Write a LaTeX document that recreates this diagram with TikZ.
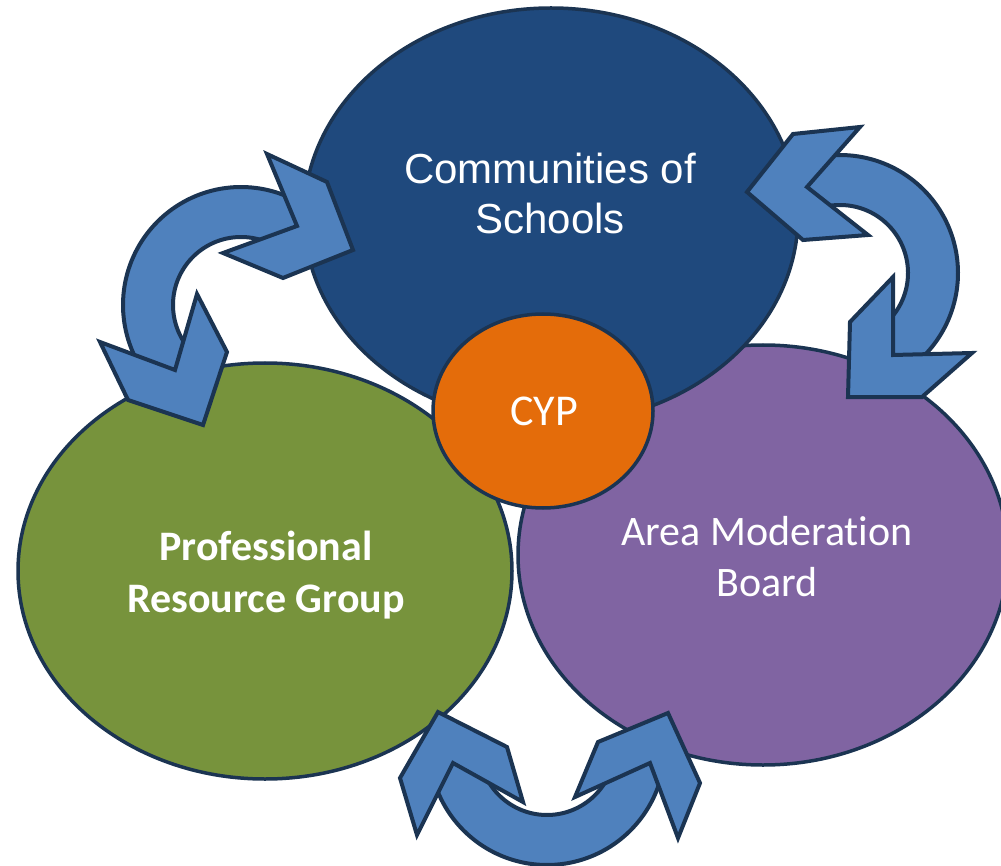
\documentclass[tikz,border=0pt]{standalone}
\usepackage{fontspec}
\usetikzlibrary{shapes.geometric}
\newfontfamily\arialf{Liberation Sans}
\newfontfamily\calf[Ligatures=NoCommon]{Carlito}
\definecolor{blueE}{HTML}{1F497D}
\definecolor{greenE}{HTML}{77933C}
\definecolor{purpleE}{HTML}{8064A2}
\definecolor{orangeE}{HTML}{E46C0A}
\definecolor{arrowC}{HTML}{4F81BD}
\definecolor{lineC}{HTML}{1B3452}
\tikzset{
  ell/.style={ellipse, draw=lineC, line width=3.5pt, inner sep=0pt, outer sep=0pt},
  band/.style={fill=arrowC, draw=lineC, line width=4pt, line join=round},
  chev/.style={fill=arrowC, draw=lineC, line width=4pt, line join=miter},
  lbl/.style={text=white, align=center, inner sep=0pt},
}
\begin{document}
\begin{tikzpicture}[x=1pt,y=-1pt]
\useasboundingbox (0,0) rectangle (1001,866);
\clip (0,0) rectangle (1001,866);
% ellipses
\node[ell, fill=purpleE, minimum width=490pt, minimum height=420pt] (amb) at (763,555) {};
\node[ell, fill=greenE, minimum width=494pt, minimum height=416pt] (prg) at (265,571) {};
\node[ell, fill=blueE, minimum width=494pt, minimum height=416pt] (cos) at (551,216) {};
\node[ell, fill=orangeE, minimum width=220pt, minimum height=194pt] (cyp) at (543,411) {};
% labels
\node[lbl, font=\arialf\fontsize{42}{50}\selectfont] (tcos) at (550,193) {Communities of\\Schools};
\node[lbl, font=\calf\bfseries\fontsize{42}{52}\selectfont] (tprg) at (266,575) {Professional\\Resource Group};
\node[lbl, font=\calf\fontsize{42}{51}\selectfont] (tamb) at (767,557) {Area Moderation\\Board};
\node[lbl, font=\calf\fontsize{44}{50}\selectfont] (tcyp) at (544,411) {CYP};
% arrow 1 (top-left)
\draw[band] plot[domain=-54.7:-224.6, samples=80] ({241+118*cos(\x)},{305+118*sin(\x)})
  -- plot[domain=-224.6:-54.7, samples=80] ({241+68*cos(\x)},{305+68*sin(\x)}) -- cycle;
\draw[chev] (267,154) -- (327,182) -- (353,250) -- (283,278) -- (223,253) -- (297,226) -- cycle;
\draw[chev] (197,294) -- (227,352) -- (203,425) -- (128,400) -- (100,342) -- (175,370) -- cycle;
% arrow 2 (top-right)
\draw[band] plot[domain=-111:57.1, samples=80] ({840+118*cos(\x)},{273+118*sin(\x)})
  -- plot[domain=57.1:-111, samples=80] ({840+68*cos(\x)},{273+68*sin(\x)}) -- cycle;
\draw[chev] (860,127) -- (793,134) -- (747,192) -- (803,240) -- (868,235) -- (807,187) -- cycle;
\draw[chev] (893,277) -- (850,322) -- (848,397) -- (922,397) -- (972,353) -- (893,355) -- cycle;
% arrow 3 (bottom)
\draw[band] plot[domain=8.8:170.3, samples=80] ({547+118*cos(\x)},{747+118*sin(\x)})
  -- plot[domain=170.3:8.8, samples=80] ({547+68*cos(\x)},{747+68*sin(\x)}) -- cycle;
\draw[chev] (523,802) -- (507,747) -- (438,712) -- (400,778) -- (417,835) -- (453,763) -- cycle;
\draw[chev] (678,838) -- (700,783) -- (668,713) -- (598,742) -- (575,797) -- (650,763) -- cycle;
\end{tikzpicture}
\end{document}
